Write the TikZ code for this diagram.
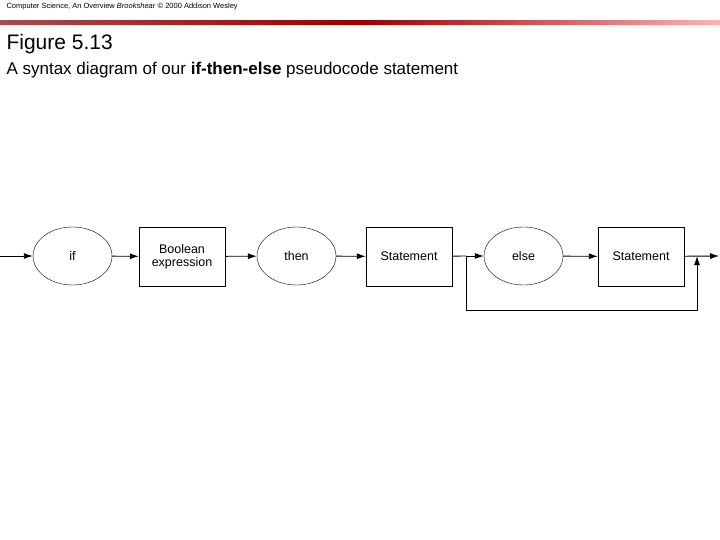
\documentclass[tikz,border=0pt]{standalone}
\usepackage{fontspec}
\setmainfont{Liberation Sans}
\usetikzlibrary{arrows.meta,shapes.geometric}
\begin{document}
\begin{tikzpicture}[x=1pt,y=-1pt,
  ov/.style={draw,ellipse,minimum width=79pt,minimum height=58pt,inner sep=0pt,font=\fontsize{12.5}{14}\selectfont},
  bx/.style={draw,rectangle,minimum width=86pt,minimum height=59pt,inner sep=0pt,align=center,font=\fontsize{12.5}{13}\selectfont},
  ar/.style={draw,-{Latex[length=9pt,width=6pt]},line width=0.9pt},
  ln/.style={draw,line width=0.9pt}]
\useasboundingbox (0,0) rectangle (720,540);
\node[anchor=west,font=\fontsize{7.5}{8}\selectfont] (hdr) at (3,7) {Computer Science, An Overview \textit{Brookshear} © 2000 Addison Wesley};
\shade[left color=red!50!black!70,right color=red!30!white,middle color=red!60!black] (0,21) rectangle (720,25);
\node[anchor=west,font=\fontsize{21}{23}\selectfont] (fig) at (3,44) {Figure 5.13};
\node[anchor=west,font=\fontsize{17}{19}\selectfont] (cap) at (3,70) {A syntax diagram of our \textbf{if-then-else} pseudocode statement};
\node[ov] (if) at (72.5,256) {if};
\node[bx] (be) at (182,256.5) {Boolean\\expression};
\node[ov] (then) at (296.5,256) {then};
\node[bx] (s1) at (409,256.5) {Statement};
\node[ov] (else) at (523.5,256) {else};
\node[bx] (s2) at (641,256.5) {Statement};
\coordinate (start) at (0,256);
\coordinate (end) at (719,256);
\coordinate (br) at (466,256);
\coordinate (mg) at (697,256);
\draw[ar] (start) -- (if);
\draw[ar] (if) -- (be);
\draw[ar] (be) -- (then);
\draw[ar] (then) -- (s1);
\draw[ln] (s1) -- (br);
\draw[ar] (br) -- (else);
\draw[ar] (else) -- (s2);
\draw[ar] (s2) -- (end);
\draw[ar] (br) -- (466,310) -- (697,310) -- (mg);
\end{tikzpicture}
\end{document}
